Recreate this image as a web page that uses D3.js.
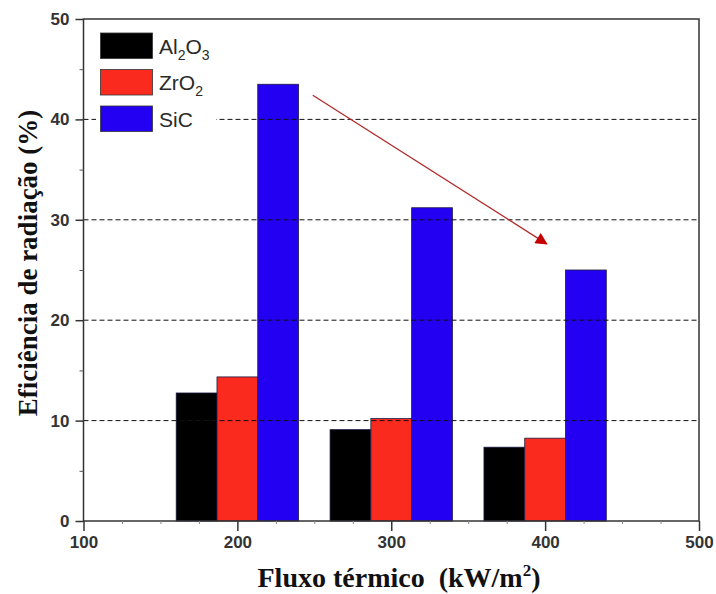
<!DOCTYPE html>
<html>
<head>
<meta charset="utf-8">
<script src="https://cdn.jsdelivr.net/npm/d3@7"></script>
<style>
  body { margin: 0; background: #fff; }
  svg { display: block; }
</style>
</head>
<body>
<script>
const fluxes = [200, 300, 400];
const series = ["Al2O3", "ZrO2", "SiC"];
const al2o3 = [12.75, 9.1, 7.35];
const zro2 = [14.35, 10.2, 8.25];
const sic = [43.5, 31.2, 25.0];
const colors = ["#000000", "#fb2a1e", "#2400f2"];
const xTicks = [100, 200, 300, 400, 500];
const yTicks = [0, 10, 20, 30, 40, 50];
const gridValues = [10, 20, 30, 40];
const arrowFrom = [249, 42.4];
const arrowTo = [401, 27.6];

const values = [al2o3, zro2, sic];
const barWidth = 26.5;

const width = 716;
const height = 594;
const plotLeft = 83.5, plotRight = 699, plotTop = 19, plotBottom = 521;

const svg = d3.select("body").append("svg")
  .attr("width", width)
  .attr("height", height);

const x = d3.scaleLinear().domain([100, 500]).range([plotLeft, plotRight]);
const y = d3.scaleLinear().domain([0, 50]).range([plotBottom, plotTop]);

// bars
series.forEach((name, s) => {
  svg.append("g")
    .selectAll("rect")
    .data(fluxes.map((f, i) => ({ f, v: values[s][i] })))
    .enter()
    .append("rect")
    .attr("x", d => x(d.f + (s - 1.5) * barWidth))
    .attr("width", x(100 + barWidth) - x(100))
    .attr("y", d => y(d.v))
    .attr("height", d => y(0) - y(d.v))
    .attr("fill", colors[s])
    .attr("stroke", "#1a1a40")
    .attr("stroke-width", 0.8);
});

// dashed grid lines on top of the bars
svg.append("g")
  .selectAll("line")
  .data(gridValues)
  .enter()
  .append("line")
  .attr("x1", plotLeft)
  .attr("x2", plotRight)
  .attr("y1", d => y(d))
  .attr("y2", d => y(d))
  .attr("stroke", "#111")
  .attr("stroke-width", 1)
  .attr("stroke-dasharray", "5,3");

// legend with white background
const legend = svg.append("g").attr("transform", "translate(96,28)");
legend.append("rect")
  .attr("x", 0).attr("y", 0)
  .attr("width", 120).attr("height", 108)
  .attr("fill", "#fff");

const labels = [
  [["Al", 0], ["2", 1], ["O", 0], ["3", 1]],
  [["ZrO", 0], ["2", 1]],
  [["SiC", 0]]
];
series.forEach((name, s) => {
  const row = legend.append("g").attr("transform", `translate(0,${5 + s * 36.5})`);
  row.append("rect")
    .attr("x", 4.5).attr("y", 0)
    .attr("width", 52).attr("height", 25.5)
    .attr("fill", colors[s])
    .attr("stroke", "#333")
    .attr("stroke-width", 0.8);
  const t = row.append("text")
    .attr("x", 63)
    .attr("y", 20.5)
    .attr("font-family", "Liberation Sans, Arial, sans-serif")
    .attr("font-size", 21)
    .attr("fill", "#2a2a2a");
  labels[s].forEach(([txt, sub], k) => {
    t.append("tspan")
      .attr("font-size", sub ? 14 : 21)
      .attr("dy", sub ? 6 : (k > 0 ? -6 : 0))
      .text(txt);
  });
});

// frame
svg.append("rect")
  .attr("x", plotLeft).attr("y", plotTop)
  .attr("width", plotRight - plotLeft).attr("height", plotBottom - plotTop)
  .attr("fill", "none")
  .attr("stroke", "#333")
  .attr("stroke-width", 1.5);

// y axis
const yAxis = svg.append("g")
  .attr("transform", `translate(${plotLeft},0)`)
  .call(d3.axisLeft(y).tickValues(yTicks).tickSize(8).tickPadding(6).tickFormat(d3.format("d")));
yAxis.select(".domain").remove();
yAxis.selectAll("line").attr("stroke", "#333").attr("stroke-width", 1.5);
yAxis.selectAll("text")
  .attr("font-family", "Liberation Sans, Arial, sans-serif")
  .attr("font-weight", "bold")
  .attr("font-size", 17)
  .attr("fill", "#333");

svg.append("g")
  .attr("transform", `translate(${plotLeft},0)`)
  .call(d3.axisLeft(y).tickValues(d3.range(5, 50, 10)).tickSize(4).tickFormat(""))
  .call(g => g.select(".domain").remove())
  .selectAll("line").attr("stroke", "#555").attr("stroke-width", 1);

// x axis
const xAxis = svg.append("g")
  .attr("transform", `translate(0,${plotBottom})`)
  .call(d3.axisBottom(x).tickValues(xTicks).tickSize(10).tickPadding(5).tickFormat(d3.format("d")));
xAxis.select(".domain").remove();
xAxis.selectAll("line").attr("stroke", "#333").attr("stroke-width", 1.5);
xAxis.selectAll("text")
  .attr("font-family", "Liberation Sans, Arial, sans-serif")
  .attr("font-weight", "bold")
  .attr("font-size", 17)
  .attr("fill", "#333");

svg.append("g")
  .attr("transform", `translate(0,${plotBottom})`)
  .call(d3.axisBottom(x).tickValues(d3.range(125, 500, 25).filter(v => v % 100 !== 0)).tickSize(3).tickFormat(""))
  .call(g => g.select(".domain").remove())
  .selectAll("line").attr("stroke", "#888").attr("stroke-width", 1);

// arrow
svg.append("defs").append("marker")
  .attr("id", "head")
  .attr("viewBox", "0 0 10 10")
  .attr("refX", 9).attr("refY", 5)
  .attr("markerWidth", 14).attr("markerHeight", 12)
  .attr("markerUnits", "userSpaceOnUse")
  .attr("orient", "auto")
  .append("path")
  .attr("d", "M0,0 L10,5 L0,10 Z")
  .attr("fill", "#c40000");

svg.append("line")
  .attr("x1", x(arrowFrom[0])).attr("y1", y(arrowFrom[1]))
  .attr("x2", x(arrowTo[0])).attr("y2", y(arrowTo[1]))
  .attr("stroke", "#b02a2a")
  .attr("stroke-width", 1.3)
  .attr("marker-end", "url(#head)");

// axis titles
const xTitle = svg.append("text")
  .attr("x", 399)
  .attr("y", 587)
  .attr("text-anchor", "middle")
  .attr("font-family", "Liberation Serif, Times New Roman, serif")
  .attr("font-weight", "bold")
  .attr("font-size", 28)
  .attr("fill", "#111");
xTitle.append("tspan").text("Fluxo térmico  (kW/m");
xTitle.append("tspan").attr("font-size", 17).attr("dy", -11).text("2");
xTitle.append("tspan").attr("dy", 11).text(")");
xTitle.style("white-space", "pre");

svg.append("text")
  .attr("transform", "translate(37,263) rotate(-90)")
  .attr("text-anchor", "middle")
  .attr("font-family", "Liberation Serif, Times New Roman, serif")
  .attr("font-weight", "bold")
  .attr("font-size", 27)
  .attr("fill", "#111")
  .text("Eficiência de radiação (%)");
</script>
</body>
</html>
